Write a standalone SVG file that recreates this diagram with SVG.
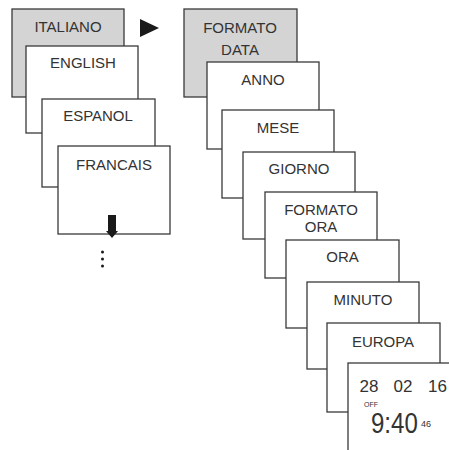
<svg xmlns="http://www.w3.org/2000/svg" width="449" height="450" viewBox="0 0 449 450">
<style>
.box{fill:#fff;stroke:#3a3a3a;stroke-width:1.3}
.sel{fill:#d4d4d4;stroke:#3a3a3a;stroke-width:1.3}
text{font-family:"Liberation Sans",Arial,sans-serif;font-size:15px;fill:#333;text-anchor:middle}
.mark{fill:#1a1a1a}
</style>
<rect width="449" height="450" fill="#fff"/>
<g id="italiano"><rect class="sel" x="12" y="9" width="112" height="88"/><text x="68" y="32">ITALIANO</text></g>
<g id="english"><rect class="box" x="26" y="46" width="112" height="87"/><text x="83" y="68">ENGLISH</text></g>
<g id="espanol"><rect class="box" x="42" y="99" width="113" height="88"/><text x="98" y="121">ESPANOL</text></g>
<g id="francais"><rect class="box" x="58" y="146" width="112" height="88"/><text x="114" y="170">FRANCAIS</text>
<polygon class="mark" points="108,215 116,215 116,231 118,231 112,238 106,231 108,231"/></g>
<g id="more"><circle class="mark" cx="102.5" cy="252" r="1.5"/><circle class="mark" cx="102.5" cy="259" r="1.5"/><circle class="mark" cx="102.5" cy="266" r="1.5"/></g>
<g id="connectors"><polygon class="mark" points="140,19 159,28 140,37"/></g>
<g id="formato-data"><rect class="sel" x="184" y="9" width="113" height="88"/><text x="240" y="33">FORMATO</text><text x="240" y="55">DATA</text></g>
<g id="anno"><rect class="box" x="207" y="62" width="112" height="87"/><text x="263" y="85">ANNO</text></g>
<g id="mese"><rect class="box" x="222" y="110" width="112" height="88"/><text x="278" y="133">MESE</text></g>
<g id="giorno"><rect class="box" x="243" y="152" width="112" height="87"/><text x="299" y="174">GIORNO</text></g>
<g id="formato-ora"><rect class="box" x="265" y="192" width="112" height="86"/><text x="321" y="215">FORMATO</text><text x="321" y="232">ORA</text></g>
<g id="ora"><rect class="box" x="286" y="240" width="113" height="88"/><text x="342.5" y="262">ORA</text></g>
<g id="minuto"><rect class="box" x="307" y="282" width="112" height="87"/><text x="363" y="305">MINUTO</text></g>
<g id="europa"><rect class="box" x="327" y="323" width="113" height="89"/><text x="383" y="347">EUROPA</text></g>
<g id="clock"><rect class="box" x="348" y="363" width="113" height="95"/>
<text x="369" y="392" style="font-size:17px">28</text>
<text x="403" y="392" style="font-size:17px">02</text>
<text x="437.5" y="392" style="font-size:17px">16</text>
<text x="371" y="407" style="font-size:7px">OFF</text>
<text transform="translate(371,433) scale(0.83,1)" style="font-size:29px;text-anchor:start">9:40</text>
<text x="421" y="427" style="font-size:9px;text-anchor:start">46</text></g>
</svg>
